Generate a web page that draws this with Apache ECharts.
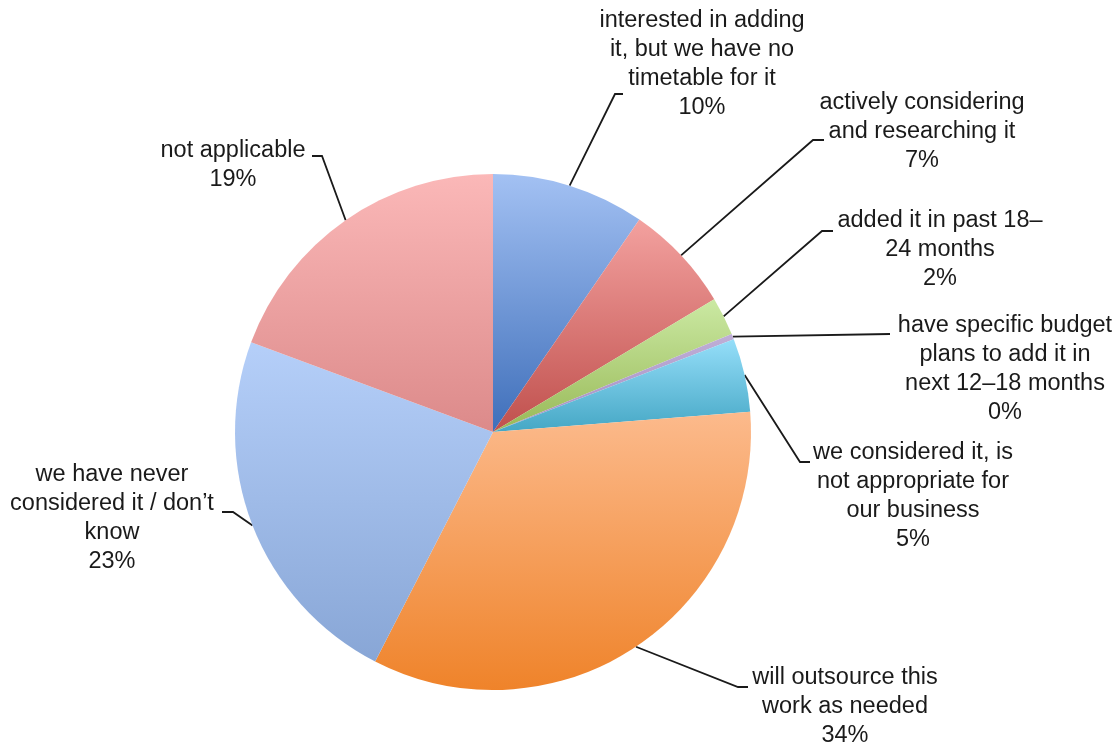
<!DOCTYPE html>
<html>
<head>
<meta charset="utf-8">
<script src="https://cdn.jsdelivr.net/npm/echarts@6/dist/echarts.min.js"></script>
<style>
html,body{margin:0;padding:0;background:#fff;}
#chart{width:1120px;height:744px;}
</style>
</head>
<body>
<div id="chart"></div>
<script>
// ---- data ----
const categories = [
  "interested in adding\nit, but we have no\ntimetable for it",
  "actively considering\nand researching it",
  "added it in past 18–\n24 months",
  "have specific budget\nplans to add it in\nnext 12–18 months",
  "we considered it, is\nnot appropriate for\nour business",
  "will outsource this\nwork as needed",
  "we have never\nconsidered it / don’t\nknow",
  "not applicable"
];
const values = [9.6, 6.8, 2.4, 0.35, 4.6, 33.8, 23.1, 19.35];
const percentLabels = ["10%", "7%", "2%", "0%", "5%", "34%", "23%", "19%"];

// ---- styles / layout ----
const gradients = [
  ["#a3c1f3", "#3f6fba"],
  ["#f3a19f", "#c0504d"],
  ["#cbe9a3", "#98b957"],
  ["#bfaed6", "#a48fc4"],
  ["#95def9", "#45a7c5"],
  ["#fcba8c", "#ef832a"],
  ["#b5cff9", "#88a6d6"],
  ["#fbb8b8", "#dc8a8a"]
];
// label block centres and leader elbows (layout only)
const labelCenters = [[702,64],[922,132],[940,250],[1005,369],[913,496],[845,707],[112,518],[233,165]];
const elbows = [
  [[615,94],[623,94]],
  [[813,140],[824,140]],
  [[822,231],[833,231]],
  [[890,334]],
  [[800,462],[810,462]],
  [[738,687],[748,687]],
  [[233,512],[222,512]],
  [[322,156],[312,156]]
];

const chart = echarts.init(document.getElementById('chart'), null, {renderer:'canvas'});
const data = categories.map((c, i) => ({
  name: c,
  value: values[i],
  itemStyle: {
    color: new echarts.graphic.LinearGradient(0, 0, 0, 1, [
      {offset: 0, color: gradients[i][0]},
      {offset: 1, color: gradients[i][1]}
    ])
  }
}));

chart.setOption({
  backgroundColor: '#ffffff',
  animation: false,
  series: [{
    type: 'pie',
    center: [493, 432],
    radius: [0, 258],
    startAngle: 90,
    clockwise: true,
    avoidLabelOverlap: false,
    data: data,
    itemStyle: {borderWidth: 0},
    label: {
      show: true,
      position: 'outside',
      formatter: p => p.name + '\n' + percentLabels[p.dataIndex],
      fontFamily: 'Liberation Sans, Arial, sans-serif',
      fontSize: 23.5,
      lineHeight: 29,
      color: '#1a1a1a',
      align: 'center'
    },
    labelLine: {
      show: true,
      length: 10,
      length2: 10,
      smooth: false,
      lineStyle: {color: '#1a1a1a', width: 1.8}
    },
    labelLayout: function (params) {
      const i = params.dataIndex;
      const start = params.labelLinePoints ? params.labelLinePoints[0] : null;
      const pts = start ? [start].concat(elbows[i]) : elbows[i];
      return {
        x: labelCenters[i][0],
        y: labelCenters[i][1],
        align: 'center',
        verticalAlign: 'middle',
        labelLinePoints: pts
      };
    }
  }]
});
</script>
</body>
</html>
